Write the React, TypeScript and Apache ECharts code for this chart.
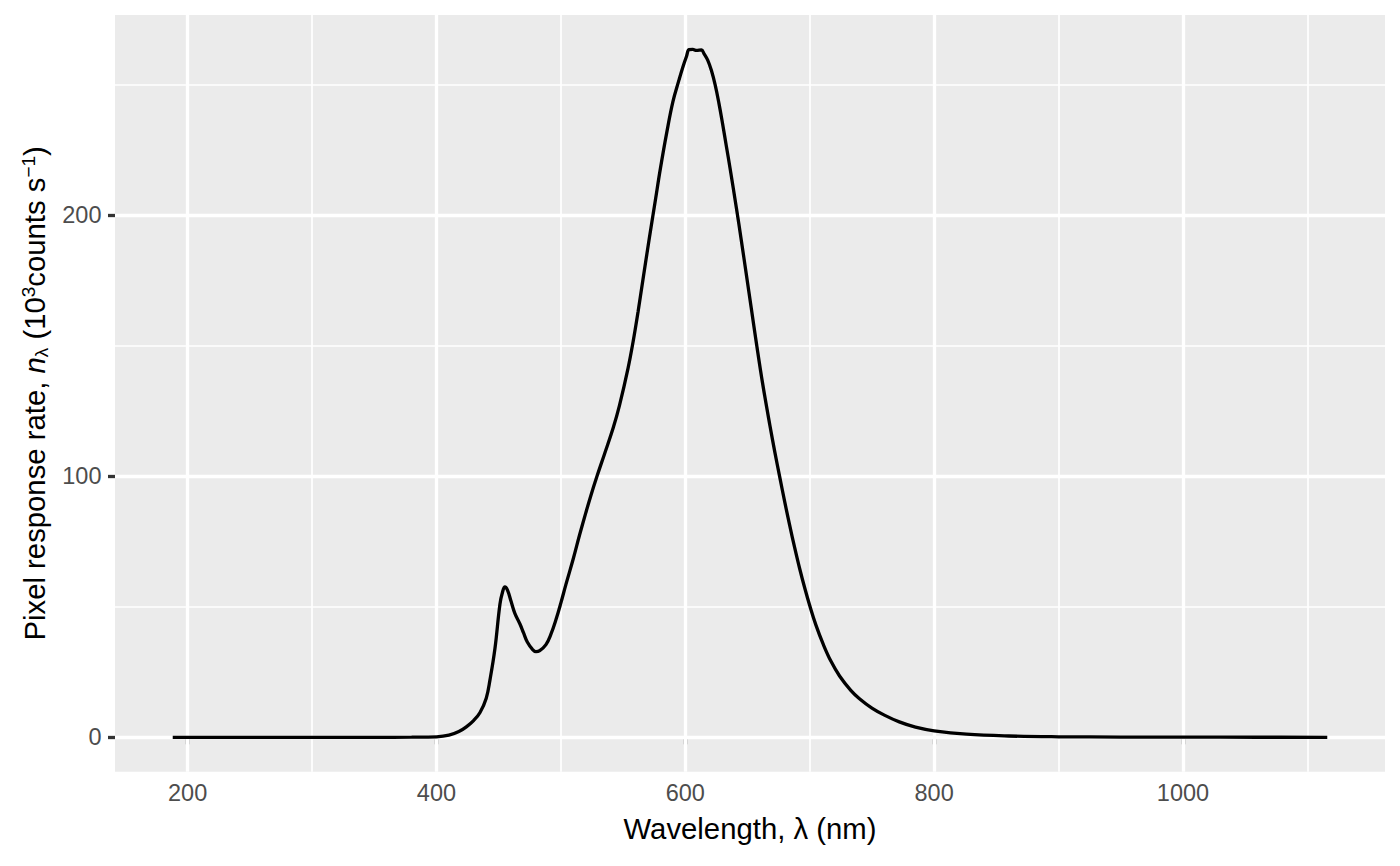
import React, { useEffect, useRef } from "react";
import * as echarts from "echarts";

// Wavelength (nm) and pixel response rate (10^3 counts s^-1)
const wavelength = [
  188, 250, 300, 350, 380, 400, 410, 418, 424, 430, 435, 440, 443, 447, 451, 453, 455, 457,
  460, 463, 467, 470, 473, 477, 480, 483, 488, 492, 496, 500, 504, 510, 515, 520, 524, 529,
  535, 542, 547, 554, 558, 562, 566, 571, 576, 580, 585, 590, 595, 598, 601, 603, 606, 609,
  613, 615, 618, 621, 624, 627, 630, 633, 636, 641, 645, 649, 653, 657, 662, 668, 672, 676,
  680, 684, 688, 692, 696, 700, 705, 711, 717, 724, 733, 740, 750, 760, 772, 785, 800, 826,
  860, 900, 950, 1000, 1060, 1116,
];
const response = [
  0, 0, 0, 0, 0.05, 0.2, 0.8, 2.2, 4, 6.5, 9.5, 15, 22, 34, 51, 55.5, 57.6, 56.5,
  52, 47.5, 43.5, 40, 36.5, 33.8, 32.8, 33.2, 35.5, 39.5, 45, 51.5, 58.5, 68.5, 77.5, 86, 92.5, 100,
  108.5, 118.5, 127, 141.5, 151.5, 163, 175.5, 191, 206, 218, 231.5, 243.5, 252, 256.8, 261, 263.5, 263.6, 263.2,
  263.4, 262, 259.5, 255.5, 250, 243, 235, 226.5, 218, 203, 190.5, 177.5, 164.5, 151.5, 136, 119.5, 109.2, 99.5,
  90, 81, 72.5, 64.5, 57.2, 50.5, 43, 35.5, 29.2, 23.5, 18, 14.8, 11.2, 8.5, 5.9, 3.9, 2.5, 1.2,
  0.5, 0.2, 0.1, 0.05, 0.02, 0,
];

const xMajorTicks = [200, 400, 600, 800, 1000];
const xMinorTicks = [300, 500, 700, 900, 1100];
const yMajorTicks = [0, 100, 200];
const yMinorTicks = [50, 150, 250];

const xTitle = "Wavelength, λ (nm)";
const yTitleRich = "Pixel response rate, {it|n}{sub|λ} (10{sup|3}counts s{sup|−1})";

const FONT = "'Liberation Sans', Arial, Helvetica, sans-serif";

export default function App() {
  const ref = useRef<HTMLDivElement>(null);

  useEffect(() => {
    if (!ref.current) return;
    const chart = echarts.init(ref.current, null, { renderer: "svg" });

    const xs = wavelength;
    const ys = response;
    const xMinD = Math.min(...xs);
    const xMaxD = Math.max(...xs);
    const yMinD = Math.min(...ys);
    const yMaxD = Math.max(...ys);
    const xPad = (xMaxD - xMinD) * 0.05;
    const yPad = (yMaxD - yMinD) * 0.05;

    const gridLeft = 115;
    const gridRight = 15;
    const gridTop = 15;
    const gridBottom = 94.3;

    const major = 3.3;
    const minor = 1.7;
    const tickFont = 23.5;
    const titleFont = 29.3;

    const markData: any[] = [
      ...xMinorTicks.map((v) => ({ xAxis: v, lineStyle: { width: minor } })),
      ...yMinorTicks.map((v) => ({ yAxis: v, lineStyle: { width: minor } })),
      ...xMajorTicks.map((v) => ({ xAxis: v, lineStyle: { width: major } })),
      ...yMajorTicks.map((v) => ({ yAxis: v, lineStyle: { width: major } })),
    ];

    const plain = (v: number) => String(v);

    const option: any = {
      animation: false,
      backgroundColor: "#FFFFFF",
      grid: {
        show: true,
        left: gridLeft,
        right: gridRight,
        top: gridTop,
        bottom: gridBottom,
        backgroundColor: "#EBEBEB",
        borderWidth: 0,
      },
      xAxis: {
        type: "value",
        min: xMinD - xPad,
        max: xMaxD + xPad,
        axisLine: { show: false },
        splitLine: { show: false },
        axisTick: {
          show: true,
          customValues: xMajorTicks,
          length: 7,
          lineStyle: { color: "#333333", width: 3.3 },
        },
        axisLabel: {
          customValues: xMajorTicks,
          formatter: plain,
          margin: 10,
          fontSize: tickFont,
          lineHeight: tickFont,
          color: "#4D4D4D",
          fontFamily: FONT,
        },
      },
      yAxis: {
        type: "value",
        min: yMinD - yPad,
        max: yMaxD + yPad,
        axisLine: { show: false },
        splitLine: { show: false },
        axisTick: {
          show: true,
          customValues: yMajorTicks,
          length: 7,
          lineStyle: { color: "#333333", width: 3.3 },
        },
        axisLabel: {
          customValues: yMajorTicks,
          formatter: plain,
          margin: 13.5,
          fontSize: tickFont,
          lineHeight: tickFont,
          color: "#4D4D4D",
          fontFamily: FONT,
        },
      },
      series: [
        {
          type: "line",
          data: xs.map((x, i) => [x, ys[i]]),
          showSymbol: false,
          symbol: "none",
          smooth: 0.4,
          z: 3,
          lineStyle: { color: "#000000", width: 3.3 },
          emphasis: { disabled: true },
          markLine: {
            z: 1,
            silent: true,
            symbol: "none",
            animation: false,
            label: { show: false },
            emphasis: { disabled: true },
            lineStyle: { color: "#FFFFFF", type: "solid", width: major },
            data: markData,
          },
        },
      ],
      graphic: [
        {
          type: "text",
          x: gridLeft + (1400 - gridLeft - gridRight) / 2,
          y: 828.1,
          style: {
            text: xTitle,
            fontSize: titleFont,
            fontFamily: FONT,
            fill: "#000000",
            textAlign: "center",
            textVerticalAlign: "middle",
          },
        },
        {
          type: "text",
          x: 34.85,
          y: gridTop + (866 - gridTop - gridBottom) / 2,
          rotation: Math.PI / 2,
          style: {
            text: yTitleRich,
            fontSize: titleFont,
            lineHeight: 32,
            fontFamily: FONT,
            fill: "#000000",
            textAlign: "center",
            textVerticalAlign: "middle",
            rich: {
              it: { fontSize: titleFont, fontStyle: "italic", fontFamily: FONT, fill: "#000000", lineHeight: 32 },
              sub: { fontSize: 19, fontFamily: FONT, fill: "#000000", lineHeight: 14.9, verticalAlign: "bottom" },
              sup: { fontSize: 19, fontFamily: FONT, fill: "#000000", lineHeight: 12.5, verticalAlign: "top" },
            },
          },
        },
      ],
    };

    chart.setOption(option);
    return () => chart.dispose();
  }, []);

  return (
    <div
      ref={ref}
      style={{ position: "fixed", left: 0, top: 0, width: 1400, height: 866, background: "#FFFFFF" }}
    />
  );
}
